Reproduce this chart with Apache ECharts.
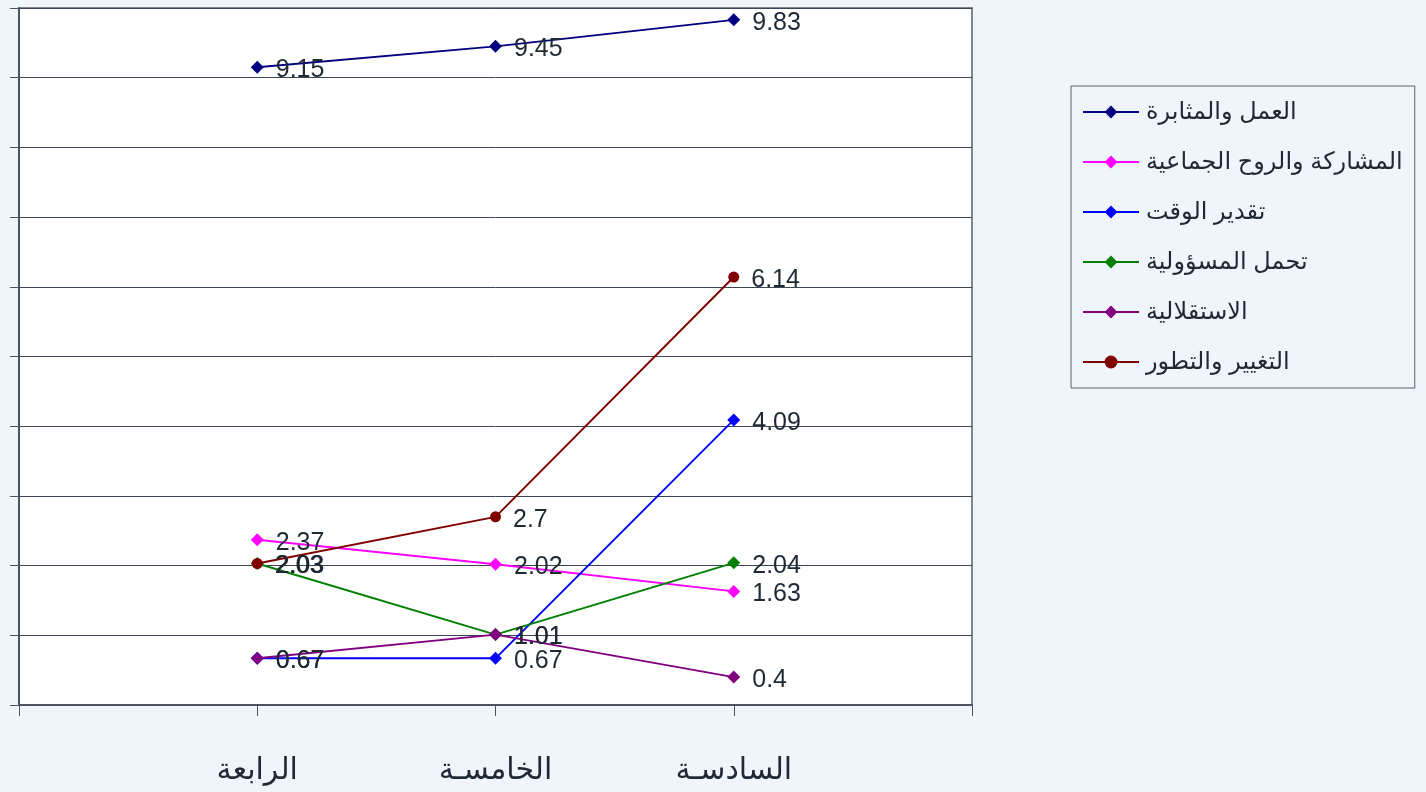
<!DOCTYPE html>
<html>
<head>
<meta charset="utf-8">
<script src="https://cdn.jsdelivr.net/npm/echarts@6/dist/echarts.min.js"></script>
<style>
html,body{margin:0;padding:0;background:#F0F4FB;}
#c{width:1426px;height:792px;}
</style>
</head>
<body>
<div id="c"></div>
<script>
const categories = ['الرابعة', 'الخامسـة', 'السادسـة'];
const seriesNames = ['العمل والمثابرة', 'المشاركة والروح الجماعية', 'تقدير الوقت', 'تحمل المسؤولية', 'الاستقلالية', 'التغيير والتطور'];
const work = [9.15, 9.45, 9.83];
const participation = [2.37, 2.02, 1.63];
const timeValue = [0.67, 0.67, 4.09];
const responsibility = [2.03, 1.01, 2.04];
const independence = [0.67, 1.01, 0.4];
const change = [2.03, 2.7, 6.14];
const yTicks = [0, 1, 2, 3, 4, 5, 6, 7, 8, 9, 10];

const colors = ['#000080', '#FF00FF', '#0000FF', '#008000', '#800080', '#800000'];
const symbols = ['diamond', 'diamond', 'diamond', 'diamond', 'diamond', 'circle'];
const values = [work, participation, timeValue, responsibility, independence, change];

const xCats = [''].concat(categories, ['']);
const font = '"Liberation Sans", Arial, "DejaVu Sans", sans-serif';

const chart = echarts.init(document.getElementById('c'), null, {renderer: 'canvas'});
chart.setOption({
  backgroundColor: '#F0F4FB',
  animation: false,
  grid: {left: 19, right: 454, top: 8, bottom: 87, show: true, backgroundColor: '#ffffff', borderColor: '#848484', borderWidth: 2},
  legend: {
    orient: 'vertical',
    left: 1071, top: 86,
    padding: [14, 12, 14, 11],
    itemWidth: 56, itemHeight: 16, itemGap: 26,
    backgroundColor: '#F0F4FB',
    borderColor: '#5a6270', borderWidth: 1,
    textStyle: {fontFamily: font, fontSize: 24, lineHeight: 24, color: '#1f2933', padding: [0, 0, 0, 2]},
    data: seriesNames
  },
  xAxis: {
    type: 'category',
    data: xCats,
    boundaryGap: false,
    axisLine: {lineStyle: {color: '#4a5462', width: 2}},
    axisTick: {show: true, length: 11, interval: 0, lineStyle: {color: '#4a5462', width: 1}},
    axisLabel: {interval: 0, margin: 51, fontFamily: font, fontSize: 30, color: '#1f2933'},
    splitLine: {show: false}
  },
  yAxis: {
    type: 'value',
    min: yTicks[0], max: yTicks[yTicks.length - 1], interval: 1,
    axisLine: {show: true, lineStyle: {color: '#4a5462', width: 2}},
    axisTick: {show: true, length: 9, lineStyle: {color: '#4a5462'}},
    axisLabel: {show: false},
    splitLine: {show: true, lineStyle: {color: '#3a4656', width: 1}}
  },
  series: seriesNames.map((name, i) => ({
    name: name,
    type: 'line',
    data: ['-'].concat(values[i], ['-']),
    color: colors[i],
    symbol: symbols[i],
    symbolSize: symbols[i] === 'circle' ? 11 : 13,
    showAllSymbol: true,
    lineStyle: {width: 1.9, color: colors[i]},
    itemStyle: {color: colors[i]},
    label: {
      show: true, position: 'right', distance: 12, offset: [0, 3],
      fontFamily: font, fontSize: 25, color: '#1f2933'
    },
    z: 2 + i
  }))
});
</script>
</body>
</html>
